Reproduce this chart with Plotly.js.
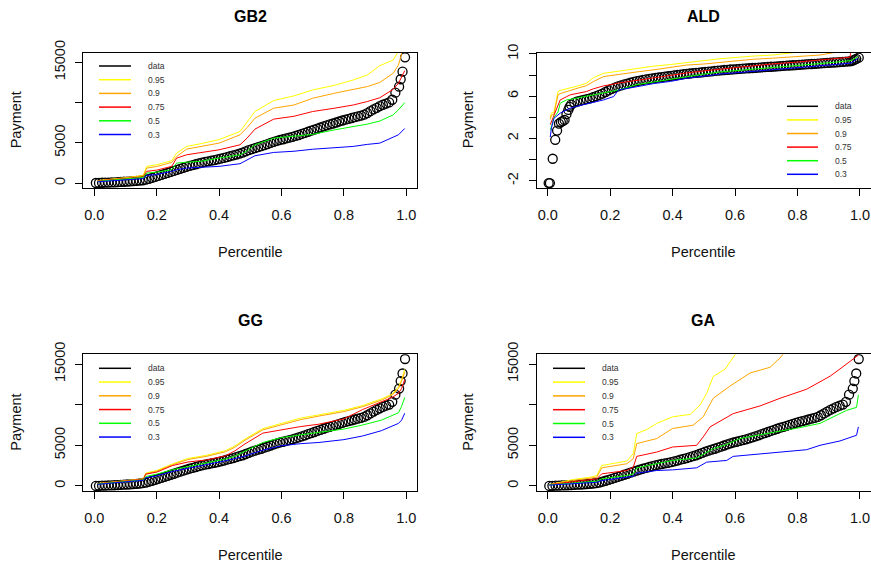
<!DOCTYPE html>
<html>
<head>
<meta charset="utf-8">
<script src="https://cdn.plot.ly/plotly-3.0.1.min.js"></script>
<style>html,body{margin:0;padding:0;background:#fff;}#chart{width:871px;height:562px;}</style>
</head>
<body>
<div id="chart"></div>
<script>
// ---------------- DATA ----------------
const panelTitles = ["GB2", "ALD", "GG", "GA"];
const seriesNames = ["data", "0.95", "0.9", "0.75", "0.5", "0.3"];
const xTickVals = [0, 0.2, 0.4, 0.6, 0.8, 1.0];
const xTickText = ["0.0", "0.2", "0.4", "0.6", "0.8", "1.0"];
const payTickVals = [0, 5000, 10000, 15000];
const payTickText = ["0", "5000", "", "15000"];
const aldTickVals = [-2, 0, 2, 4, 6, 8, 10];
const aldTickText = ["-2", "", "2", "", "6", "", "10"];

// observed payments (percentile, payment) – shared by GB2, GG, GA panels
const payP = [0.005,0.015,0.025,0.035,0.045,0.055,0.065,0.075,0.085,0.095,
  0.105,0.115,0.125,0.135,0.145,0.155,0.165,0.175,0.185,0.195,
  0.205,0.215,0.225,0.235,0.245,0.255,0.265,0.275,0.285,0.295,
  0.305,0.315,0.325,0.335,0.345,0.355,0.365,0.375,0.385,0.395,
  0.405,0.415,0.425,0.435,0.445,0.455,0.465,0.475,0.485,0.495,
  0.505,0.515,0.525,0.535,0.545,0.555,0.565,0.575,0.585,0.595,
  0.605,0.615,0.625,0.635,0.645,0.655,0.665,0.675,0.685,0.695,
  0.705,0.715,0.725,0.735,0.745,0.755,0.765,0.775,0.785,0.795,
  0.805,0.815,0.825,0.835,0.845,0.855,0.865,0.875,0.885,0.895,
  0.905,0.915,0.925,0.935,0.945,0.955,0.965,0.977,0.982,0.988,0.996];
const payV = [0,15,30,45,60,75,90,110,130,155,
  180,205,235,265,300,345,420,520,640,760,
  880,1000,1130,1250,1380,1500,1630,1760,1880,2010,
  2120,2220,2330,2430,2530,2620,2700,2780,2850,2930,
  3020,3120,3230,3330,3430,3540,3660,3780,3930,4080,
  4220,4340,4460,4580,4710,4840,4980,5120,5250,5350,
  5440,5540,5640,5740,5850,5970,6100,6230,6370,6510,
  6640,6770,6900,7040,7170,7280,7400,7520,7650,7770,
  7880,7980,8080,8180,8280,8380,8500,8700,8930,9150,
  9350,9550,9730,9880,10020,10350,11230,11980,12900,13840,15620];

// GB2 fitted quantiles
const gb2P = [0.01,0.05,0.10,0.157,0.168,0.20,0.248,0.264,0.296,0.34,0.40,0.467,0.49,0.515,0.575,0.64,0.70,0.77,0.83,0.875,0.915,0.958,0.975,0.995];
const gb2Q95 = [300,450,650,950,2070,2270,2770,3720,4550,4880,5400,6400,7650,8890,10250,10830,11570,12150,12810,13430,14590,15290,16400,18500];
const gb2Q90 = [280,420,600,880,1860,2050,2560,3300,4220,4500,4960,5990,6900,8060,9300,9700,10540,11160,11600,11990,12500,13640,14670,17500];
const gb2Q75 = [250,380,550,740,1450,1600,2070,3100,3510,3800,4130,4750,5600,6700,7940,8300,8890,9300,9700,10130,10600,11650,12400,13970];
const gb2Q50 = [200,330,480,700,1240,1350,1650,2480,2590,2690,3100,3510,4000,4750,5580,5800,6050,6610,7000,7320,7700,8470,9100,10000];
const gb2Q30 = [150,260,380,540,950,1050,1450,1650,1860,1950,2070,2400,2900,3390,3800,3950,4200,4400,4550,4800,4960,5700,6000,6780];

// ALD: observed log payments
const aldP = [0.003,0.007,0.016,0.024,0.030,0.036,0.042,0.048,0.054,0.060,0.066,0.070,
  0.075,0.085,0.095,0.105,0.115,0.125,0.135,0.145,0.155,0.165,0.175,0.185,0.195,
  0.205,0.215,0.225,0.235,0.245,0.255,0.265,0.275,0.285,0.295,
  0.305,0.315,0.325,0.335,0.345,0.355,0.365,0.375,0.385,0.395,
  0.405,0.415,0.425,0.435,0.445,0.455,0.465,0.475,0.485,0.495,
  0.505,0.515,0.525,0.535,0.545,0.555,0.565,0.575,0.585,0.595,
  0.605,0.615,0.625,0.635,0.645,0.655,0.665,0.675,0.685,0.695,
  0.705,0.715,0.725,0.735,0.745,0.755,0.765,0.775,0.785,0.795,
  0.805,0.815,0.825,0.835,0.845,0.855,0.865,0.875,0.885,0.895,
  0.905,0.915,0.925,0.935,0.945,0.955,0.965,0.972,0.978,0.983,0.988,0.996];
const aldV = [-2.22,-2.22,0.08,1.87,2.75,3.4,3.55,3.65,3.75,4.3,4.7,5.0,
  5.2,5.4,5.5,5.58,5.65,5.72,5.8,5.9,6.0,6.12,6.25,6.4,6.55,
  6.7,6.82,6.93,7.03,7.12,7.2,7.28,7.35,7.42,7.48,
  7.54,7.59,7.64,7.69,7.73,7.77,7.81,7.85,7.89,7.93,
  7.97,8.01,8.05,8.09,8.12,8.15,8.18,8.21,8.24,8.27,
  8.3,8.33,8.36,8.39,8.42,8.45,8.48,8.5,8.53,8.55,
  8.57,8.59,8.61,8.63,8.65,8.67,8.69,8.71,8.73,8.75,
  8.77,8.79,8.81,8.83,8.85,8.87,8.89,8.91,8.93,8.95,
  8.97,8.99,9.01,9.03,9.05,9.07,9.09,9.11,9.13,9.15,
  9.17,9.19,9.21,9.23,9.25,9.27,9.3,9.33,9.39,9.46,9.54,9.65];
const aldQP = [0.008,0.012,0.02,0.033,0.04,0.06,0.072,0.1,0.124,0.146,0.179,0.211,0.227,0.286,0.34,0.393,0.445,0.5,0.552,0.658,0.72,0.787,0.872,0.915,0.968,0.975,0.993];
const aldQ95 = [4.0,4.4,4.5,6.44,6.55,6.7,6.76,7.0,7.23,7.75,8.17,8.3,8.4,8.6,8.85,9.0,9.2,9.35,9.55,9.8,9.9,10.12,10.5,10.7,10.9,11,11.5];
const aldQ90 = [3.8,4.2,4.3,6.13,6.25,6.45,6.53,6.8,7.0,7.38,7.86,8.0,8.1,8.3,8.5,8.7,8.95,9.05,9.2,9.5,9.6,9.75,9.9,10.12,10.3,10.35,10.5];
const aldQ75 = [3.3,3.6,4.3,5.3,5.65,5.95,6.13,6.3,6.44,6.7,6.98,7.15,7.25,7.5,7.75,7.95,8.2,8.4,8.55,8.9,9.06,9.2,9.43,9.55,9.69,11,11.5];
const aldQ50 = [2.8,3.13,4.0,4.5,5.34,5.65,5.7,5.85,5.97,6.1,6.3,6.5,6.6,7.1,7.35,7.6,7.9,8.1,8.3,8.55,8.75,8.9,9.1,9.2,9.37,9.42,9.75];
const aldQ30 = [2.13,3.0,3.92,4.2,4.4,4.7,4.87,5.1,5.25,5.45,5.65,5.97,6.6,6.9,7.2,7.4,7.7,7.9,8.1,8.35,8.5,8.65,8.85,8.95,9.12,9.2,9.59];

// GG fitted quantiles
const ggP = [0.01,0.08,0.157,0.165,0.2,0.25,0.3,0.36,0.42,0.45,0.48,0.54,0.6,0.66,0.72,0.8,0.86,0.92,0.955,0.975,0.985,0.995];
const ggQ95 = [300,550,870,1580,1910,2700,3380,3770,4350,4900,5700,7050,7650,8340,8750,9300,9900,10700,11300,12200,13100,14350];
const ggQ90 = [280,520,850,1500,1800,2600,3250,3650,4200,4750,5550,6900,7500,8150,8600,9150,9750,10550,11200,12000,12900,14000];
const ggQ75 = [260,500,820,1450,1700,2500,2950,3200,3700,4300,5100,6500,6900,7300,7600,8250,9400,10400,10900,11400,12000,13100];
const ggQ50 = [230,450,750,1160,1450,1990,2400,2850,3300,3650,4200,5350,5950,6300,6600,7000,7500,8100,8700,9000,9800,10900];
const ggQ30 = [200,400,700,1000,1250,1780,2150,2600,3100,3360,3650,4400,4950,5200,5350,5700,6150,6800,7400,7700,8100,8950];

// GA fitted quantiles
const gaP95 = [0.005,0.08,0.136,0.157,0.173,0.21,0.253,0.274,0.285,0.317,0.349,0.40,0.456,0.488,0.509,0.53,0.568,0.6,0.65];
const gaQ95 = [165,785,1075,1280,2520,2810,3060,3970,6450,6940,7690,8510,8800,9960,11400,13470,14380,16160,18500];
const gaP90 = [0.005,0.08,0.157,0.173,0.253,0.274,0.285,0.349,0.40,0.466,0.498,0.53,0.584,0.648,0.712,0.744,0.755,0.8];
const gaQ90 = [150,660,1075,2230,2730,3350,5210,5830,7070,7480,8510,10790,12300,13900,14600,15750,16280,17500];
const gaP75 = [0.005,0.157,0.173,0.253,0.274,0.285,0.349,0.40,0.477,0.498,0.52,0.594,0.68,0.744,0.829,0.872,0.904,0.936,0.968,0.995];
const gaQ75 = [150,870,1490,1900,2310,3640,4170,4790,5000,6030,7270,8900,9850,10790,11900,12800,13500,14400,15300,16100];
const gaP50 = [0.005,0.157,0.173,0.253,0.274,0.285,0.349,0.40,0.477,0.53,0.573,0.616,0.722,0.797,0.872,0.957,0.989,0.995];
const gaQ50 = [120,580,870,1280,1490,2230,2730,3140,3450,4590,5100,5830,6600,7100,7700,9300,9670,11200];
const gaP30 = [0.005,0.157,0.173,0.253,0.274,0.285,0.349,0.40,0.477,0.509,0.573,0.594,0.722,0.829,0.872,0.936,0.989,0.995];
const gaQ30 = [100,450,660,1075,1200,1570,1900,1980,2230,2930,3140,3640,4050,4460,5000,5540,6240,7270];

// ---------------- STYLE / LAYOUT ----------------
const W = 871, H = 562;
const FONT = "Liberation Sans, Arial, Helvetica, sans-serif";
const lineColors = ["#000000", "#FFFF00", "#FFA500", "#FF0000", "#00FF00", "#0000FF"];
const px = v => v / W;
const py = v => 1 - v / H;

// plot boxes in pixels: [left, right, top, bottom]
const boxes = [
  [83.3, 417.3, 52.7, 188.0],
  [536.7, 871.0, 52.7, 188.0],
  [83.3, 417.3, 354.3, 491.0],
  [536.7, 871.0, 354.3, 491.0]
];
const yRanges = [[-620, 16200], [-2.69, 10.12], [-620, 16200], [-620, 16200]];

const panels = [
  { dataX: payP, dataY: payV, lines: [[gb2P, gb2Q95], [gb2P, gb2Q90], [gb2P, gb2Q75], [gb2P, gb2Q50], [gb2P, gb2Q30]] },
  { dataX: aldP, dataY: aldV, lines: [[aldQP, aldQ95], [aldQP, aldQ90], [aldQP, aldQ75], [aldQP, aldQ50], [aldQP, aldQ30]] },
  { dataX: payP, dataY: payV, lines: [[ggP, ggQ95], [ggP, ggQ90], [ggP, ggQ75], [ggP, ggQ50], [ggP, ggQ30]] },
  { dataX: payP, dataY: payV, lines: [[gaP95, gaQ95], [gaP90, gaQ90], [gaP75, gaQ75], [gaP50, gaQ50], [gaP30, gaQ30]] }
];

// legend placement in pixels: [lineX0, lineX1, textX, firstRowY, rowStep]
const legendPos = [
  [99, 131, 146, 66, 13.7],
  [787, 818, 833, 106.3, 13.6],
  [99, 131, 146, 368.3, 13.75],
  [553, 585, 600, 368.3, 13.8]
];

const traces = [];
const layout = {
  width: W, height: H,
  margin: { l: 0, r: 0, t: 0, b: 0, pad: 0 },
  paper_bgcolor: "#ffffff", plot_bgcolor: "#ffffff",
  showlegend: false,
  font: { family: FONT, color: "#000" },
  annotations: [], shapes: []
};

panels.forEach((pn, i) => {
  const k = i === 0 ? "" : String(i + 1);
  const xr = "x" + k, yr = "y" + k;
  traces.push({
    x: pn.dataX, y: pn.dataY, xaxis: xr, yaxis: yr, type: "scatter", mode: "markers",
    name: seriesNames[0], hoverinfo: "skip",
    marker: { symbol: "circle-open", size: 9, color: "#000", line: { width: 1.3, color: "#000" } },
    cliponaxis: true
  });
  pn.lines.forEach((ln, j) => {
    traces.push({
      x: ln[0], y: ln[1], xaxis: xr, yaxis: yr, type: "scatter", mode: "lines",
      name: seriesNames[j + 1], hoverinfo: "skip",
      line: { color: lineColors[j + 1], width: 1 }
    });
  });
  const b = boxes[i];
  layout["xaxis" + k] = {
    domain: [px(b[0]), px(b[1])], anchor: yr,
    range: [-0.0353, 1.0353],
    tickmode: "array", tickvals: xTickVals, ticktext: xTickText,
    ticks: "outside", ticklen: 7, tickwidth: 1, tickcolor: "#000",
    showline: true, mirror: true, linecolor: "#000", linewidth: 1,
    showgrid: false, zeroline: false, fixedrange: true,
    tickfont: { family: FONT, size: 14.5, color: "#111" },
    ticklabelstandoff: 7
  };
  const isAld = i === 1;
  layout["yaxis" + k] = {
    domain: [py(b[3]), py(b[2])], anchor: xr,
    range: yRanges[i],
    tickmode: "array",
    tickvals: isAld ? aldTickVals : payTickVals,
    ticktext: isAld ? aldTickText : payTickText,
    tickangle: -90,
    ticks: "outside", ticklen: 7, tickwidth: 1, tickcolor: "#000",
    showline: true, mirror: true, linecolor: "#000", linewidth: 1,
    showgrid: false, zeroline: false, fixedrange: true,
    tickfont: { family: FONT, size: 14.5, color: "#111" },
    ticklabelstandoff: 5
  };
  const cx = (b[0] + b[1]) / 2 - (i % 2 === 1 ? 0.6 : 0);
  const cy = (b[2] + b[3]) / 2;
  const titleY = i < 2 ? 17 : 320;
  const xlabY = i < 2 ? 252 : 555;
  const ylabX = i % 2 === 0 ? 16 : 468;
  layout.annotations.push({
    text: "<b>" + panelTitles[i] + "</b>", xref: "paper", yref: "paper",
    x: px(cx), y: py(titleY), xanchor: "center", yanchor: "middle", showarrow: false,
    font: { family: FONT, size: 16, color: "#000" }
  });
  layout.annotations.push({
    text: "Percentile", xref: "paper", yref: "paper",
    x: px(cx), y: py(xlabY), xanchor: "center", yanchor: "middle", showarrow: false,
    font: { family: FONT, size: 14.5, color: "#111" }
  });
  layout.annotations.push({
    text: "Payment", xref: "paper", yref: "paper", textangle: -90,
    x: px(ylabX), y: py(cy), xanchor: "center", yanchor: "middle", showarrow: false,
    font: { family: FONT, size: 14.5, color: "#111" }
  });
  // legend (no box, as in base-R legend with bty = "n")
  const L = legendPos[i];
  seriesNames.forEach((nm, j) => {
    const yy = L[3] + j * L[4];
    layout.shapes.push({
      type: "line", xref: "paper", yref: "paper",
      x0: px(L[0]), x1: px(L[1]), y0: py(yy), y1: py(yy),
      line: { color: lineColors[j], width: 1.5 }
    });
    layout.annotations.push({
      text: nm, xref: "paper", yref: "paper",
      x: px(L[2]), y: py(yy), xanchor: "left", yanchor: "middle", showarrow: false,
      font: { family: FONT, size: 8.5, color: "#333" }
    });
  });
});

Plotly.newPlot("chart", traces, layout, { displayModeBar: false, staticPlot: true });
</script>
</body>
</html>
